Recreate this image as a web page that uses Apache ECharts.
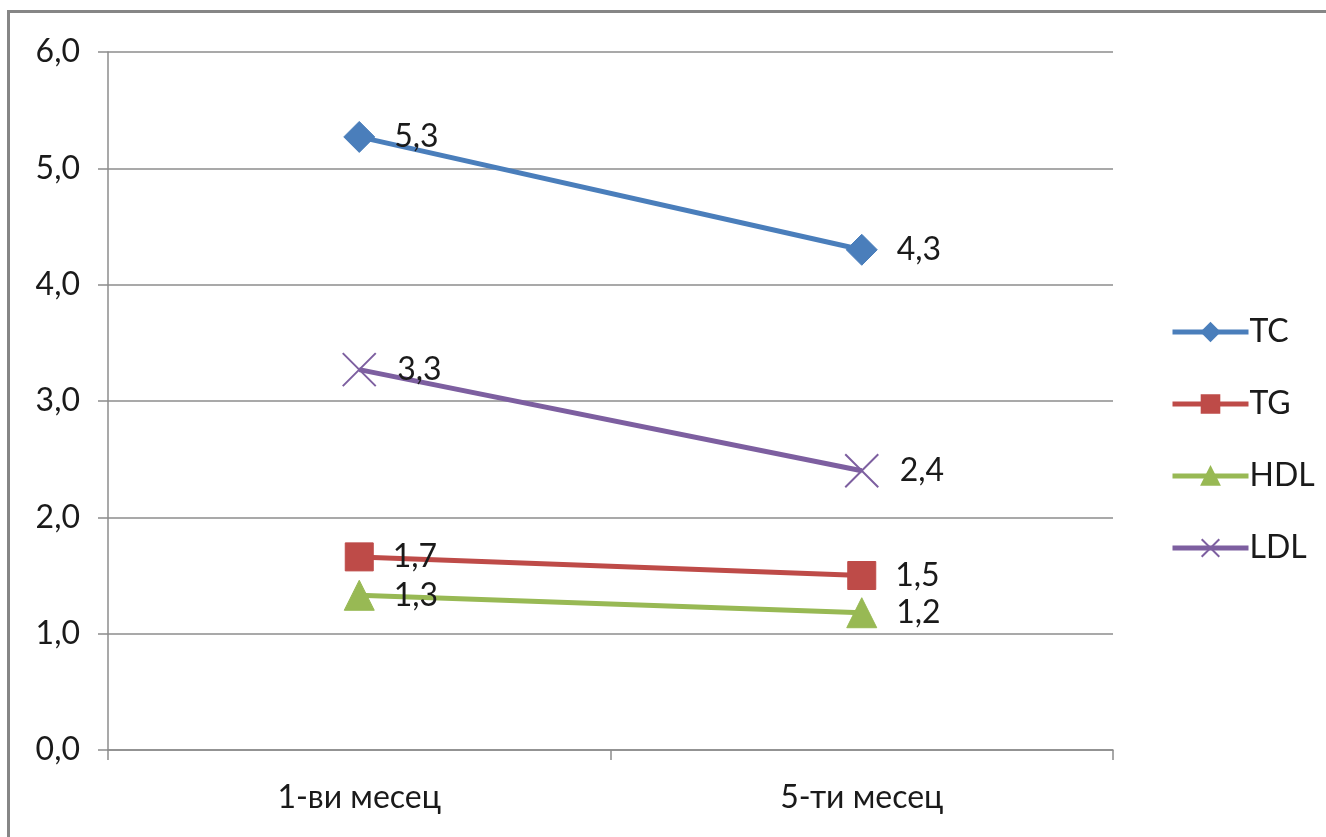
<!DOCTYPE html>
<html><head><meta charset="utf-8">
<script src="https://cdn.jsdelivr.net/npm/echarts@6/dist/echarts.min.js"></script>
<style>html,body{margin:0;padding:0;background:#fff;}#c{width:1326px;height:837px;}</style>
</head><body><div id="c"></div>
<script>
const categories = ['1-ви месец', '5-ти месец'];
const seriesNames = ['TC', 'TG', 'HDL', 'LDL'];
const tcValues = [5.27, 4.30];
const tgValues = [1.66, 1.50];
const hdlValues = [1.33, 1.18];
const ldlValues = [3.27, 2.40];
const yTicks = [0, 1, 2, 3, 4, 5, 6];

const FONT = 'Lato, "Open Sans", sans-serif';
const FS = 32;
const colors = ['#4a7ebb', '#be4b48', '#98b954', '#7d5fa0'];
const symbols = ['diamond', 'rect', 'triangle',
  'path://M0,0 L2,2 M2,0 L0,2'];
const valuesList = [tcValues, tgValues, hdlValues, ldlValues];
const symbolSizes = [31, 28, 30, 33];

const chart = echarts.init(document.getElementById('c'));
const series = seriesNames.map((n, i) => ({
  name: n,
  type: 'line',
  data: valuesList[i],
  symbol: symbols[i],
  symbolSize: symbolSizes[i],
  showAllSymbol: true,
  lineStyle: { color: colors[i], width: 5 },
  itemStyle: i === 3
    ? { color: 'none', borderColor: colors[i], borderWidth: 2 }
    : { color: colors[i], borderColor: colors[i], borderWidth: 1 },
  label: {
    show: true, position: 'right', distance: 19,
    color: '#1a1a1a', fontSize: FS, fontFamily: FONT,
    formatter: p => p.value.toFixed(1).replace('.', ',')
  },
  emphasis: { disabled: true },
  animation: false,
  z: 3
}));

chart.setOption({
  animation: false,
  backgroundColor: '#ffffff',
  grid: { left: 108, right: 213, top: 52, bottom: 87, containLabel: false },
  legend: {
    orient: 'vertical', left: 1165, top: 311,
    itemWidth: 76, itemHeight: 22, itemGap: 40,
    lineStyle: { width: 5 },
    textStyle: { fontSize: FS, fontFamily: FONT, color: '#1a1a1a', padding: [0, 0, 0, -4] },
    data: seriesNames,
    selectedMode: false
  },
  xAxis: {
    type: 'category', data: categories, boundaryGap: true,
    axisLine: { show: true, lineStyle: { color: '#8c8c8c', width: 1.5 } },
    axisTick: { show: true, length: 10, alignWithLabel: false, lineStyle: { color: '#8c8c8c', width: 1.5 } },
    axisLabel: { fontSize: FS, fontFamily: FONT, color: '#1a1a1a', margin: 32 }
  },
  yAxis: {
    type: 'value', min: 0, max: 6, interval: 1,
    axisLine: { show: true, lineStyle: { color: '#8c8c8c', width: 1.5 } },
    axisTick: { show: true, length: 10, inside: false, lineStyle: { color: '#8c8c8c', width: 1.5 } },
    splitLine: { show: true, lineStyle: { color: '#8c8c8c', width: 1.5 } },
    axisLabel: { fontSize: FS, fontFamily: FONT, color: '#1a1a1a', margin: 28,
      formatter: v => v.toFixed(1).replace('.', ',') }
  },
  series: series,
  graphic: [{
    type: 'polyline',
    shape: { points: [[8.5, 837], [8.5, 11.5], [1326, 11.5]] },
    style: { stroke: '#868686', lineWidth: 3, fill: 'none' },
    silent: true
  }]
});
</script></body></html>
